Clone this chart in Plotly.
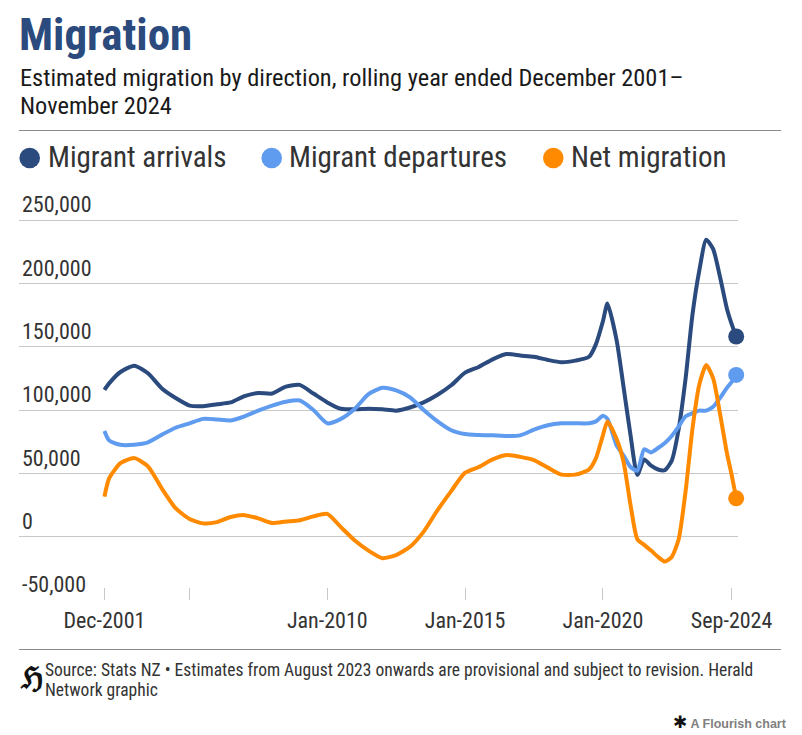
import plotly.graph_objects as go

# ---------------- data ----------------
dates = [
    "2001-12-01", "2002-02-01", "2002-07-01", "2003-01-01", "2003-07-01", "2004-01-01", "2004-07-01",
    "2005-01-01", "2005-07-01", "2006-01-01", "2006-07-01", "2007-01-01", "2007-07-01",
    "2008-01-01", "2008-07-01", "2009-01-01", "2009-07-01", "2010-01-01", "2010-07-01",
    "2011-01-01", "2011-07-01", "2012-01-01", "2012-07-01", "2013-01-01", "2013-07-01",
    "2014-01-01", "2014-07-01", "2015-01-01", "2015-07-01", "2016-01-01", "2016-07-01",
    "2017-01-01", "2017-07-01", "2018-01-01", "2018-07-01", "2019-01-01", "2019-07-01",
    "2019-10-01", "2020-01-01", "2020-03-01", "2020-07-01", "2020-10-01", "2021-01-01",
    "2021-04-01", "2021-07-01", "2021-10-01", "2022-01-01", "2022-04-01", "2022-07-01",
    "2022-10-01", "2023-01-01", "2023-04-01", "2023-07-01", "2023-10-01", "2024-01-01",
    "2024-04-01", "2024-07-01", "2024-09-01", "2024-11-01",
]

arrivals = [
    115800, 121000, 130000, 135000, 129000, 117000, 109500,
    103500, 103000, 104500, 106000, 111000, 113500,
    113000, 118500, 119800, 113000, 106000, 101000,
    100500, 101000, 100500, 99500, 102000, 106000,
    112000, 119500, 129500, 134000, 140000, 144200,
    143000, 142000, 139500, 137700, 139000, 142000,
    152000, 170000, 184000, 155000, 118000, 80000,
    48700, 61000, 56000, 53000, 52500, 60000,
    85000, 125000, 175000, 210000, 234500, 227000,
    205000, 180000, 168000, 158000,
]

departures = [
    83500, 76000, 72500, 72600, 74500, 80500, 86000,
    89500, 93000, 92500, 91800, 95000, 99500,
    103500, 106500, 107500, 100000, 89500, 93000,
    101000, 112500, 117500, 115500, 110000, 100000,
    91000, 84000, 81000, 80300, 80000, 79500,
    80000, 84500, 88000, 89500, 89500, 89500,
    91000, 95500, 93000, 72000, 64000, 55000,
    52000, 69000, 66500, 70000, 74000, 79500,
    87000, 95000, 97500, 99500, 99500, 102500,
    109500, 117500, 122000, 127700,
]

net = [
    31600, 46000, 58000, 62000, 55500, 38000, 22500,
    14000, 10500, 11500, 15500, 17000, 14500,
    10800, 12000, 13000, 16000, 18000, 7500,
    -3000, -11000, -17000, -14500, -8000, 4000,
    21000, 36000, 50500, 55000, 61000, 64500,
    63000, 60500, 54500, 49000, 49000, 53000,
    62000, 80000, 91000, 77000, 59000, 25000,
    -2000, -6500, -11000, -16000, -19700, -16000,
    -2000, 36000, 85000, 120000, 135500, 125000,
    97000, 66000, 49000, 30300,
]

series_names = ["Migrant arrivals", "Migrant departures", "Net migration"]
series_colors = ["#2b4a7d", "#5f9bef", "#ff8a00"]

x_tick_vals = ["2001-12-01", "2005-01-01", "2010-01-01", "2015-01-01", "2020-01-01", "2024-09-01"]
x_tick_text = ["Dec-2001", "", "Jan-2010", "Jan-2015", "Jan-2020", "Sep-2024"]
y_tick_vals = [-50000, 0, 50000, 100000, 150000, 200000, 250000]
y_tick_text = ["-50,000", "0", "50,000", "100,000", "150,000", "200,000", "250,000"]

# ---------------- layout helpers ----------------
W, H = 802, 735
GRID_TOP, GRID_BOTTOM = 220, 600          # pixel rows of the 250,000 and -50,000 gridlines
L, R, T, B = 19, 64, 180, H - GRID_BOTTOM
PW, PH = W - L - R, H - T - B
Y_MIN, Y_MAX = -50000, 250000
PER_PX = (Y_MAX - Y_MIN) / (GRID_BOTTOM - GRID_TOP)
Y_TOP = Y_MAX + (GRID_TOP - T) * PER_PX
FONT = "Roboto Condensed, Liberation Sans Narrow, DejaVu Sans Condensed, Roboto, sans-serif"


def px(x):
    return (x - L) / PW


def py(y):
    return (H - B - y) / PH


fig = go.Figure()
for vals, name, col in zip([arrivals, departures, net], series_names, series_colors):
    fig.add_trace(go.Scatter(
        x=dates, y=vals, name=name, mode="lines",
        line=dict(color=col, width=4, shape="spline", smoothing=0.6),
        showlegend=False, cliponaxis=False, hoverinfo="skip",
    ))
    fig.add_trace(go.Scatter(
        x=[dates[-1]], y=[vals[-1]], mode="markers",
        marker=dict(color=col, size=16), showlegend=False, cliponaxis=False, hoverinfo="skip",
    ))

fig.update_layout(
    width=W, height=H,
    margin=dict(l=L, r=R, t=T, b=B),
    paper_bgcolor="white", plot_bgcolor="white",
    font=dict(family=FONT, color="#333333"),
    xaxis=dict(
        type="date", range=["1998-10-26", "2024-11-25"],
        tickvals=x_tick_vals, ticktext=x_tick_text,
        ticks="inside", ticklen=12, tickcolor="#c8c8c8", tickwidth=1,
        showgrid=False, showline=False, zeroline=False, ticklabelstandoff=5,
        tickfont=dict(size=22, color="#333333"),
    ),
    yaxis=dict(
        range=[Y_MIN, Y_TOP], tickvals=y_tick_vals, ticktext=y_tick_text,
        ticklabelposition="inside top", showgrid=True, gridcolor="#c8c8c8", gridwidth=1,
        zeroline=False, showline=False, ticks="",
        tickfont=dict(size=22, color="#333333"),
    ),
)

shapes = []
shapes.append(dict(type="line", xref="paper", yref="paper", x0=px(19), x1=px(781), y0=py(130.5), y1=py(130.5),
                   line=dict(color="#8a8a8a", width=1)))
shapes.append(dict(type="line", xref="paper", yref="paper", x0=px(19), x1=px(781), y0=py(649.5), y1=py(649.5),
                   line=dict(color="#8a8a8a", width=1)))
legend_dot_x = [29.7, 271.7, 553.3]
legend_text_x = [46, 287, 569]
for cx, col in zip(legend_dot_x, series_colors):
    shapes.append(dict(type="circle", xref="paper", yref="paper",
                       x0=px(cx - 10.3), x1=px(cx + 10.3), y0=py(158 + 10.3), y1=py(158 - 10.3),
                       fillcolor=col, line=dict(width=0)))
fig.update_layout(shapes=shapes)


def note(text, x, y, size, color, family=FONT, xanchor="left"):
    return dict(text=text, x=px(x), y=py(y), xref="paper", yref="paper", xanchor=xanchor,
                yanchor="middle", align="left", showarrow=False,
                font=dict(size=size, color=color, family=family))


ann = [
    note("<b>Migration</b>", 17, 35, 45, "#2b4a7d"),
    note("Estimated migration by direction, rolling year ended December 2001–", 18, 77, 24.4, "#1a1a1a"),
    note("November 2024", 18, 105.5, 24.4, "#1a1a1a"),
]
for tx, name in zip(legend_text_x, series_names):
    ann.append(note(name, tx, 157, 29, "#333333"))
ann.append(note("<b>ℌ</b>", 18, 677, 30, "#111111", family="DejaVu Serif"))
ann.append(note("Source: Stats NZ • Estimates from August 2023 onwards are provisional and subject to revision. Herald",
                43, 670, 17.5, "#333333"))
ann.append(note("Network graphic", 43, 689.5, 17.5, "#333333"))
ann.append(note("<span style='color:#111111;font-size:17px'>✱</span> <b>A Flourish chart</b>", 789, 722, 12.5,
                "#808080", family="Liberation Sans, Arial", xanchor="right"))
fig.update_layout(annotations=ann)

fig.write_html("out.html", config={"displayModeBar": False},
               post_script="document.body.style.margin='0';document.body.style.padding='0';")
